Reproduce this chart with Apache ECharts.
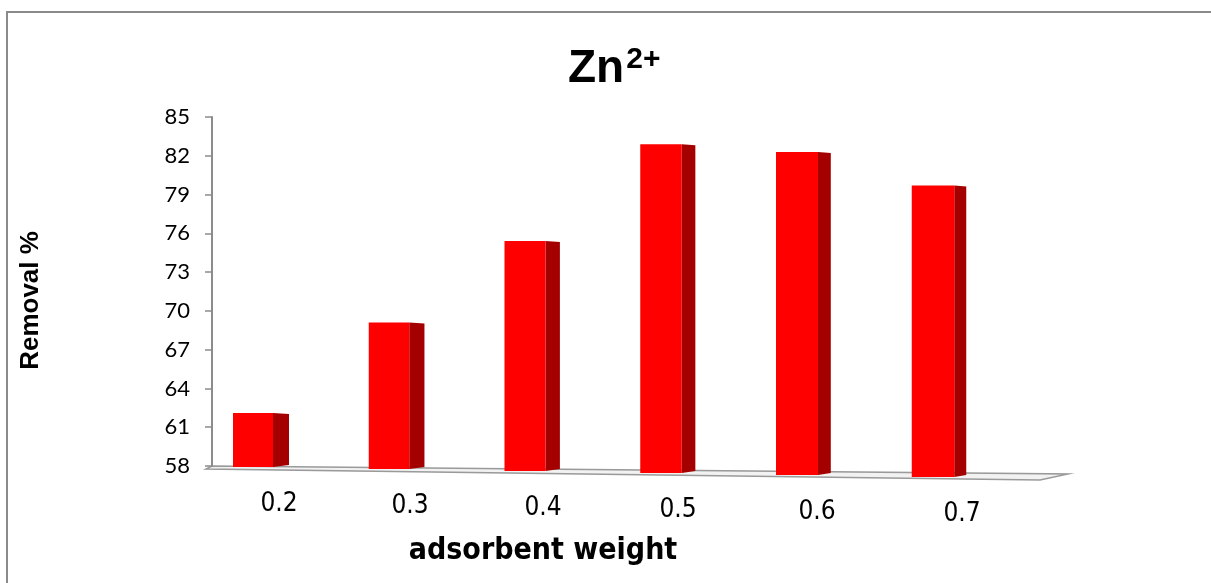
<!DOCTYPE html>
<html>
<head>
<meta charset="utf-8">
<script src="https://cdn.jsdelivr.net/npm/echarts@6/dist/echarts.min.js"></script>
<style>html,body{margin:0;padding:0;background:#fff;}#c{width:1211px;height:583px;}</style>
</head>
<body>
<div id="c"></div>
<script>
var categories = ['0.2', '0.3', '0.4', '0.5', '0.6', '0.7'];
var removal = [62.1, 69.1, 75.4, 82.9, 82.3, 79.7];
var yMin = 58, yMax = 85, yStep = 3;

var condensed = '"DejaVu Sans Condensed", "Liberation Sans", sans-serif';
var labelShift = [52, 42, 36, 34, 40, 58];
var chart = echarts.init(document.getElementById('c'));

var rich = {};
categories.forEach(function (c, i) {
  rich['l' + i] = {
    fontFamily: condensed,
    fontSize: 26, color: '#000',
    padding: [2 * i, 0, 0, labelShift[i]]
  };
});

function renderBar(params, api) {
  var i = params.dataIndex;
  var v = api.value(1);
  var top = api.coord([i, v]);
  var base = api.coord([i, yMin]);
  var w = 40 + 0.5 * i;
  var sideW = 16 - 0.8 * i;
  var x0 = top[0] - w / 2;
  var x1 = top[0] + w / 2;
  var yTop = top[1];
  var yBot = base[1] + 1 + 2 * i;
  return {
    type: 'group',
    children: [
      {
        type: 'polygon',
        shape: { points: [[x1, yTop], [x1 + sideW, yTop + 1], [x1 + sideW, yBot - 2], [x1, yBot]] },
        style: { fill: '#a50000' }
      },
      {
        type: 'rect',
        shape: { x: x0, y: yTop, width: w, height: yBot - yTop },
        style: { fill: '#ff0000' }
      }
    ]
  };
}

chart.setOption({
  animation: false,
  backgroundColor: '#fff',
  title: {
    text: '{a|Zn}{b|2+}',
    left: 563,
    top: 40,
    textStyle: {
      rich: {
        a: { fontFamily: 'Liberation Sans', fontWeight: 'bold', fontSize: 46, color: '#000' },
        b: { fontFamily: 'Liberation Sans', fontWeight: 'bold', fontSize: 30, color: '#000', verticalAlign: 'top', padding: [0, 0, 18, 2] }
      }
    }
  },
  graphic: [
    {
      type: 'polyline',
      shape: { points: [[7, 600], [7, 12], [1215, 12]] },
      style: { stroke: '#8a8a8a', lineWidth: 2, fill: null }
    },
    {
      type: 'polygon',
      z: 0,
      shape: { points: [[212, 466], [1068, 474], [1040, 480], [206, 469]] },
      style: { fill: '#f2f2f2', stroke: '#9a9a9a', lineWidth: 1.5 }
    }
  ],
  grid: { left: 185, right: 210, top: 117, bottom: 117 },
  xAxis: {
    type: 'category',
    data: categories,
    boundaryGap: true,
    axisLine: { show: false },
    axisTick: { show: false },
    axisLabel: {
      margin: 25,
      fontSize: 26,
      fontFamily: condensed,
      formatter: function (val, idx) { return '{l' + idx + '|' + val + '}'; },
      rich: rich
    },
    name: 'adsorbent weight',
    nameLocation: 'middle',
    nameGap: 70,
    nameTextStyle: {
      fontFamily: condensed,
      fontWeight: 'bold', fontSize: 30, color: '#000',
      padding: [0, 100, 0, 0]
    }
  },
  yAxis: {
    type: 'value',
    min: yMin,
    max: yMax,
    interval: yStep,
    offset: -27,
    splitLine: { show: false },
    axisLine: { show: true, lineStyle: { color: '#8c8c8c', width: 2 } },
    axisTick: { show: true, length: 7, lineStyle: { color: '#8c8c8c', width: 1.5 } },
    axisLabel: {
      margin: 22,
      fontFamily: 'Lato',
      fontSize: 22, color: '#000'
    },
    name: 'Removal %',
    nameLocation: 'middle',
    nameGap: 168,
    nameRotate: 90,
    nameTextStyle: {
      fontFamily: 'Liberation Sans',
      fontWeight: 'bold', fontSize: 26, color: '#000',
      padding: [0, 18, 0, 0]
    }
  },
  series: [{
    type: 'custom',
    renderItem: renderBar,
    z: 5,
    data: removal.map(function (v, i) { return [i, v]; })
  }]
});
</script>
</body>
</html>
